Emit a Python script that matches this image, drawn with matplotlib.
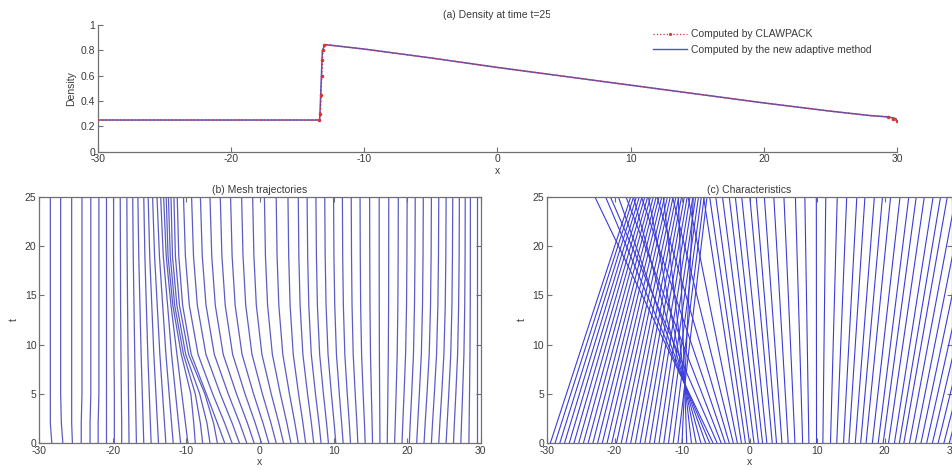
import numpy as np
import matplotlib
matplotlib.use('Agg')
import matplotlib.pyplot as plt
from matplotlib.lines import Line2D
from matplotlib.patches import Rectangle

# (a) density profile at t = 25
x_adapt = [-30, -13.35, -13.15, -12.95, -10, -5, 0, 5, 10, 15, 20, 25, 28, 29.3, 29.8, 30]
rho_adapt = [0.25, 0.25, 0.80, 0.845, 0.81, 0.74, 0.665, 0.595, 0.525, 0.455, 0.385, 0.32, 0.285, 0.275, 0.265, 0.255]
x_claw = [-30, -25, -20, -15, -13.4, -13.3, -13.25, -13.2, -13.15, -13.1, -13.0, -12.8,
          -10, -5, 0, 5, 10, 15, 20, 25, 28, 29.3, 29.7, 30]
rho_claw = [0.25, 0.25, 0.25, 0.25, 0.25, 0.30, 0.45, 0.60, 0.72, 0.80, 0.84, 0.845,
            0.81, 0.74, 0.665, 0.595, 0.525, 0.455, 0.385, 0.32, 0.285, 0.275, 0.26, 0.245]
claw_marked = [4, 5, 6, 7, 8, 9, 10, 21, 22, 23]

# (b) mesh point positions x at the sampled times
t_mesh = [0, 2, 5, 9, 14, 19, 25]
mesh_x = [
    [-28.3, -28.5, -28.5, -28.5, -28.5, -28.5, -28.5],
    [-26.8, -27.0, -27.1, -27.1, -27.1, -27.1, -27.1],
    [-25.5, -25.6, -25.6, -25.6, -25.6, -25.6, -25.6],
    [-24.3, -24.3, -24.2, -24.2, -24.2, -24.2, -24.2],
    [-23.1, -23.1, -23.0, -23.0, -23.0, -23.0, -23.0],
    [-22.0, -22.0, -21.9, -21.9, -21.9, -21.9, -21.9],
    [-20.9, -20.9, -20.9, -20.9, -20.9, -20.9, -20.9],
    [-19.8, -19.8, -19.8, -19.85, -19.85, -19.9, -19.9],
    [-18.8, -18.8, -18.85, -18.9, -18.95, -18.97, -19.0],
    [-17.8, -17.83, -17.88, -17.94, -18.0, -18.06, -18.1],
    [-16.8, -16.85, -16.93, -17.03, -17.13, -17.23, -17.3],
    [-15.8, -15.88, -16.0, -16.16, -16.32, -16.48, -16.6],
    [-14.8, -14.9, -15.05, -15.25, -15.45, -15.65, -15.8],
    [-13.8, -13.94, -14.15, -14.43, -14.71, -14.99, -15.2],
    [-12.8, -12.98, -13.25, -13.61, -13.97, -14.33, -14.6],
    [-11.8, -12.02, -12.35, -12.79, -13.23, -13.67, -14.0],
    [-10.8, -11.07, -11.48, -12.02, -12.56, -13.15, -13.5],
    [-9.8, -10.13, -10.63, -11.29, -12.1, -12.75, -13.1],
    [-8.8, -9.0, -9.4, -10.7, -11.85, -12.5, -12.75],
    [-7.8, -8.1, -8.8, -10.4, -11.6, -12.2, -12.45],
    [-6.8, -7.2, -8.2, -10.1, -11.3, -11.9, -12.1],
    [-5.8, -6.3, -7.5, -9.7, -10.95, -11.5, -11.7],
    [-4.8, -5.78, -7.3, -9.35, -10.52, -11.04, -11.25],
    [-3.8, -4.79, -6.44, -8.42, -9.61, -10.14, -10.4],
    [-2.8, -3.78, -5.4, -7.35, -8.52, -9.04, -9.3],
    [-1.8, -2.75, -4.32, -6.21, -7.34, -7.85, -8.1],
    [-0.8, -1.7, -3.2, -5.0, -6.08, -6.56, -6.8],
    [0.2, -0.64, -2.04, -3.72, -4.73, -5.18, -5.4],
    [1.2, 0.42, -0.88, -2.44, -3.38, -3.79, -4.0],
    [2.2, 1.5, 0.32, -1.09, -1.94, -2.31, -2.5],
    [3.2, 2.57, 1.52, 0.26, -0.5, -0.83, -1.0],
    [4.2, 3.66, 2.76, 1.68, 1.03, 0.74, 0.6],
    [5.2, 4.75, 4.0, 3.1, 2.56, 2.32, 2.2],
    [6.2, 5.84, 5.24, 4.52, 4.09, 3.9, 3.8],
    [7.3, 6.99, 6.46, 5.83, 5.45, 5.28, 5.2],
    [8.3, 8.02, 7.54, 6.97, 6.63, 6.48, 6.4],
    [9.3, 9.05, 8.62, 8.11, 7.8, 7.67, 7.6],
    [10.3, 10.08, 9.7, 9.25, 8.98, 8.86, 8.8],
    [11.3, 11.1, 10.78, 10.39, 10.16, 10.05, 10.0],
    [12.3, 12.14, 11.86, 11.53, 11.33, 11.24, 11.2],
    [13.3, 13.17, 12.94, 12.67, 12.51, 12.44, 12.4],
    [14.3, 14.2, 14.02, 13.81, 13.68, 13.63, 13.6],
    [15.3, 15.24, 15.14, 15.02, 14.95, 14.92, 14.9],
    [16.3, 16.29, 16.26, 16.23, 16.21, 16.2, 16.2],
    [17.3, 17.33, 17.38, 17.44, 17.48, 17.49, 17.5],
    [18.3, 18.38, 18.5, 18.65, 18.74, 18.78, 18.8],
    [19.3, 19.41, 19.58, 19.79, 19.92, 19.97, 20.0],
    [20.3, 20.42, 20.62, 20.86, 21.0, 21.07, 21.1],
    [21.3, 21.44, 21.66, 21.93, 22.09, 22.16, 22.2],
    [22.3, 22.45, 22.7, 23.0, 23.18, 23.26, 23.3],
    [23.3, 23.45, 23.7, 24.0, 24.18, 24.26, 24.3],
    [24.3, 24.45, 24.7, 25.0, 25.18, 25.26, 25.3],
    [25.3, 25.44, 25.66, 25.93, 26.09, 26.16, 26.2],
    [26.3, 26.42, 26.62, 26.86, 27.0, 27.07, 27.1],
    [27.3, 27.39, 27.54, 27.72, 27.83, 27.88, 27.9],
    [28.4, 28.43, 28.48, 28.54, 28.58, 28.59, 28.6],
    [29.5, 29.5, 29.5, 29.5, 29.5, 29.5, 29.5],
]

# (c) straight characteristics: foot at t=0 and position at t=25
# left state, slowly converging
left_x0 = [-29.5, -28.8, -28.1, -27.4, -26.7, -26.0, -25.3, -24.6, -23.9, -23.2, -22.5, -21.8,
           -21.1, -20.4, -19.7, -19.0, -18.3, -17.6, -16.9, -16.2, -15.5, -14.8, -14.1, -13.4,
           -12.7, -12.0, -11.3, -10.6]
left_x25 = [-17.6, -17.18, -16.76, -16.34, -15.93, -15.51, -15.09, -14.67, -14.25, -13.83, -13.42, -13.0,
            -12.58, -12.16, -11.74, -11.32, -10.9, -10.49, -10.07, -9.65, -9.23, -8.81, -8.39, -7.97,
            -7.56, -7.14, -6.72, -6.3]
# compression ramp, all passing near the focus
ramp_x0 = [-10.0, -9.3, -8.6, -7.9, -7.2, -6.5, -5.9]
ramp_x25 = [-8.33, -10.55, -12.77, -14.98, -17.2, -19.42, -21.32]
# high-density state entering the shock from the right
high_x0 = [-5.4, -4.8, -4.2, -3.6, -3.0, -2.4, -1.8, -1.2]
high_x25 = [-22.9, -20.6, -18.3, -16.0, -13.7, -11.4, -9.1, -6.8]
# expansion fan on the right
fan_x0 = [-0.6, 0.0, 0.67, 1.33, 1.93, 2.57, 3.37, 4.0, 4.8, 5.73, 6.73, 7.87, 8.8, 9.93,
          10.87, 12.0, 12.93, 13.93, 14.73, 15.67, 16.47, 17.27, 18.2, 19.07, 19.8, 20.6,
          21.47, 22.2, 22.87, 23.7, 24.55, 25.4, 26.25, 27.1, 27.95, 28.8, 29.6]
fan_x25 = [-5.9, -5.0, -4.0, -3.0, -2.1, -1.15, 0.05, 1.0, 2.2, 3.6, 5.1, 6.8, 8.2, 9.9,
           11.3, 13.0, 14.4, 15.9, 17.1, 18.5, 19.7, 20.9, 22.3, 23.6, 24.7, 25.9,
           27.2, 28.3, 29.3, 30.55, 31.8, 33.1, 34.4, 35.65, 36.9, 38.2, 39.4]

TXT = '#3a3a3a'
AX = '#707070'
plt.rcParams['font.family'] = ['Liberation Sans', 'DejaVu Sans']
plt.rcParams['font.size'] = 7.5
plt.rcParams['axes.unicode_minus'] = False

fig = plt.figure(figsize=(9.53, 4.70), dpi=100)


def style(ax, box=True):
    for s in ax.spines.values():
        s.set_color(AX)
        s.set_linewidth(0.9)
    if not box:
        ax.spines['top'].set_visible(False)
        ax.spines['right'].set_visible(False)
    ax.tick_params(direction='in', length=3.5, width=0.8, colors=AX, labelcolor=TXT,
                   labelsize=7.5, top=box, right=box, pad=2)


# --- (a)
ax1 = fig.add_axes([98 / 953, 1 - 151.7 / 470, 799 / 953, 126.7 / 470])
ax1.plot(x_adapt, rho_adapt, color='#5050c8', lw=1.1, zorder=2)
ax1.plot(x_claw, rho_claw, color='#e03030', lw=1.0, ls=':', marker='.', ms=3,
         markevery=claw_marked, zorder=3)
ax1.set_xlim(-30, 30)
ax1.set_ylim(0, 1)
ax1.set_xticks([-30, -20, -10, 0, 10, 20, 30])
ax1.set_yticks([0, 0.2, 0.4, 0.6, 0.8, 1])
ax1.set_yticklabels(['0', '0.2', '0.4', '0.6', '0.8', '1'])
style(ax1, box=False)
ax1.set_xlabel('x', color=TXT, labelpad=1)
ax1.set_ylabel('Density', color=TXT, labelpad=3)
ax1.text(0.5, 1 + 10 / 126.7, '(a) Density at time t=25', transform=ax1.transAxes,
         ha='center', va='center', color=TXT, zorder=3)
ax1.add_artist(Rectangle((550 / 953, 1 - 62 / 470), 350 / 953, 58 / 470, transform=fig.transFigure,
                         facecolor='white', edgecolor='none', clip_on=False, zorder=4))
handles = [Line2D([], [], color='#e03030', lw=0.9, ls=':', marker='.', ms=2.5, markevery=[1]),
           Line2D([], [], color='#5050c8', lw=1.0)]
leg = ax1.legend(handles, ['Computed by CLAWPACK', 'Computed by the new adaptive method'],
                 loc='upper left', bbox_to_anchor=(644 / 953, 1 - 20 / 470),
                 bbox_transform=fig.transFigure, frameon=False, fontsize=7.5,
                 handlelength=3.2, handletextpad=0.4, labelspacing=0.55, borderpad=0.4)
leg.set_zorder(5)
for txt in leg.get_texts():
    txt.set_color(TXT)

# --- (b)
ax2 = fig.add_axes([39.3 / 953, 1 - 443 / 470, 441.4 / 953, 246 / 470])
for row in mesh_x:
    ax2.plot(row, t_mesh, color='#5c5cc4', lw=0.9)
ax2.set_xlim(-30, 30)
ax2.set_ylim(0, 25)
ax2.set_xticks([-30, -20, -10, 0, 10, 20, 30])
ax2.set_yticks([0, 5, 10, 15, 20, 25])
style(ax2)
ax2.set_xlabel('x', color=TXT, labelpad=1)
ax2.set_ylabel('t', color=TXT, labelpad=4)
ax2.set_title('(b) Mesh trajectories', color=TXT, fontsize=7.5, pad=3)

# --- (c)
ax3 = fig.add_axes([547 / 953, 1 - 443 / 470, 405 / 953, 246 / 470])
for x0s, x25s in [(left_x0, left_x25), (ramp_x0, ramp_x25), (high_x0, high_x25), (fan_x0, fan_x25)]:
    for a, b in zip(x0s, x25s):
        ax3.plot([a, b], [0, 25], color='#3c3cd8', lw=0.8)
ax3.set_xlim(-30, 30)
ax3.set_ylim(0, 25)
ax3.set_xticks([-30, -20, -10, 0, 10, 20, 30])
ax3.set_yticks([0, 5, 10, 15, 20, 25])
style(ax3)
ax3.set_xlabel('x', color=TXT, labelpad=1)
ax3.set_ylabel('t', color=TXT, labelpad=4)
ax3.set_title('(c) Characteristics', color=TXT, fontsize=7.5, pad=3)

fig.savefig('out.png', dpi=100)
